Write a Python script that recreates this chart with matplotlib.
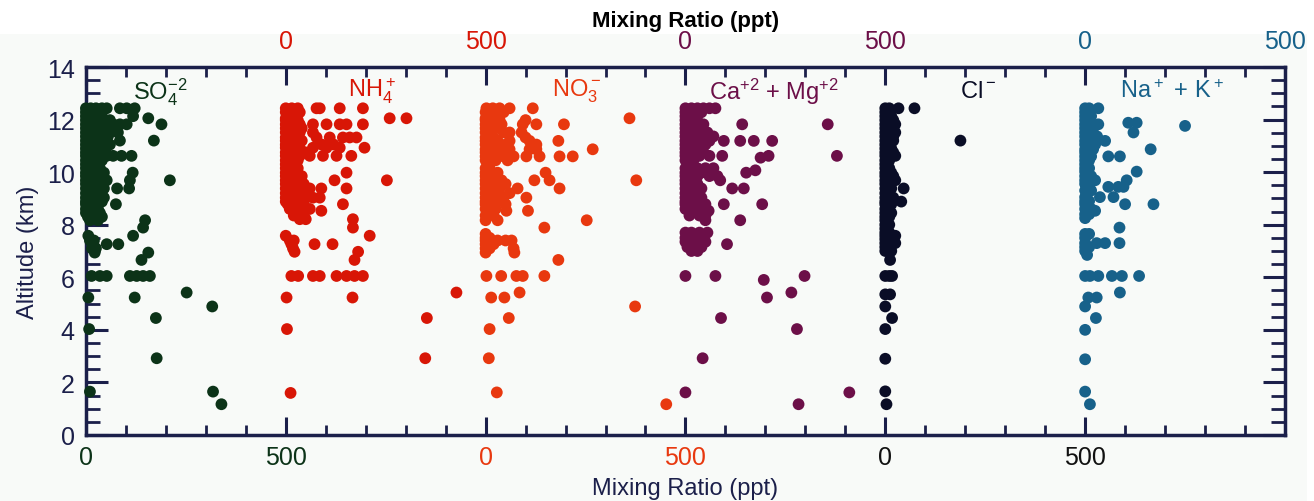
import matplotlib.pyplot as plt
from matplotlib.patches import Rectangle
from matplotlib.ticker import MultipleLocator

plt.rcParams['font.family'] = ['Liberation Sans', 'DejaVu Sans']
plt.rcParams['mathtext.default'] = 'regular'

# each species: rows of (altitude km, [mixing ratios in ppt at that altitude])
so4_rows = [
    (12.43, [0, 12, 25, 40, 52, 85, 102, 122]), (12.28, [0, 15, 30]),
    (12.13, [0, 10, 25, 40, 118]), (12.05, [156]), (11.98, [0, 20, 35, 60]),
    (11.82, [0, 12, 28, 45, 68, 85, 102, 189]), (11.67, [0, 15, 30, 50]),
    (11.51, [0, 10, 25, 40, 60, 80]), (11.36, [0, 18, 35, 55]),
    (11.2, [0, 12, 28, 45, 85, 170]), (11.05, [0, 20, 40, 60]), (10.9, [0, 10, 30, 50]),
    (10.75, [0, 15, 35]), (10.62, [0, 12, 30, 52, 68, 89, 114]), (10.45, [0, 20, 40]),
    (10.3, [0, 10, 30]), (10.15, [0, 15, 35]), (9.98, [0, 10, 25, 45, 117]),
    (9.85, [0, 20, 40]), (9.69, [0, 10, 30, 52, 110, 210]), (9.55, [0, 15, 35]),
    (9.38, [0, 10, 25, 45, 78, 108]), (9.2, [0, 15, 35]), (9.03, [0, 10, 30, 45]),
    (8.88, [0, 20, 40]), (8.78, [0, 10, 75]), (8.6, [0, 15, 30]), (8.45, [0, 20, 35]),
    (8.3, [5, 25, 40]), (8.17, [10, 30, 148]), (7.89, [143]), (7.58, [6, 118]),
    (7.4, [10, 20]), (7.26, [18, 52, 81]), (7.1, [15, 25]), (6.94, [22, 156]),
    (6.66, [139]), (6.05, [14, 35, 52, 110, 127, 143, 160]), (5.42, [252]),
    (5.23, [6, 122]), (4.89, [316]), (4.45, [175]), (4.03, [8]), (2.92, [177]),
    (1.65, [10, 318]), (1.17, [339]),
]
nh4_rows = [
    (12.43, [0, 15, 30, 77, 85, 135, 193]), (12.28, [0, 20, 35]), (12.05, [0, 10, 260, 302]),
    (11.98, [0, 15, 30]), (11.82, [0, 20, 35, 68, 102, 135, 152, 193]),
    (11.67, [0, 10, 25, 40]), (11.51, [0, 15, 35, 68]),
    (11.32, [0, 10, 25, 77, 110, 143, 160, 177]), (11.2, [0, 20, 40]),
    (11.05, [0, 10, 30, 90, 120]), (10.93, [0, 20, 35, 68, 102, 135, 197]),
    (10.75, [0, 10, 30, 50]), (10.62, [0, 20, 35, 60, 93, 127, 164]), (10.45, [0, 15, 30]),
    (10.3, [0, 10]), (10.15, [0, 15, 30]), (9.98, [0, 10, 25, 152]), (9.85, [0, 20, 40]),
    (9.69, [0, 10, 30, 122, 253]), (9.55, [0, 20, 45]), (9.38, [0, 15, 35, 60, 89, 152]),
    (9.2, [0, 25, 50]), (9.03, [0, 15, 40, 68, 85]), (8.88, [0, 20, 45]), (8.78, [5, 30, 143]),
    (8.6, [10, 35, 60]), (8.53, [89]), (8.35, [20, 45]), (8.21, [35, 50, 168]), (7.89, [168]),
    (7.58, [0, 210]), (7.4, [10, 20]), (7.26, [14, 72, 117]), (7.1, [18]), (6.97, [22, 181]),
    (6.66, [172]), (6.05, [14, 31, 68, 85, 127, 152, 172, 193]), (5.42, [427]),
    (5.23, [2, 167]), (4.45, [353]), (4.03, [3]), (2.92, [349]), (1.6, [12]),
]
no3_rows = [
    (12.43, [2, 18, 35, 60, 118]), (12.28, [0, 15, 30, 45]), (12.05, [0, 20, 360]),
    (11.98, [0, 10, 35, 100]), (11.82, [0, 15, 40, 93, 127, 196]), (11.67, [0, 25]),
    (11.51, [0, 10, 45, 60, 90]), (11.32, [0, 20, 100]), (11.19, [0, 30, 60, 110, 182]),
    (11.05, [0, 15, 40, 127]), (10.87, [0, 25, 60, 110, 127, 268]), (10.75, [0, 35]),
    (10.6, [0, 15, 45, 70, 102, 135, 185, 218]), (10.45, [0, 25, 55]), (10.15, [0, 10]),
    (9.98, [0, 15, 30, 150]), (9.85, [0, 25]), (9.69, [0, 10, 40, 122, 160, 377]),
    (9.55, [0, 20, 50]), (9.38, [0, 15, 35, 80, 185]), (9.2, [0, 25, 60]),
    (9.03, [0, 10, 45, 102]), (8.88, [0, 30]), (8.78, [0, 15, 50]), (8.6, [0, 25]),
    (8.53, [52, 106]), (8.35, [0, 20]), (8.17, [0, 30, 253]), (7.89, [147]), (7.65, [0]),
    (7.5, [0, 10]), (7.4, [0, 15, 30, 50, 65]), (7.26, [0, 20]), (7.1, [0, 10, 70]),
    (6.94, [0, 72]), (6.66, [182]), (6.05, [2, 39, 77, 93, 147]), (5.42, [85]),
    (5.23, [14, 47]), (4.89, [374]), (4.45, [58]), (4.03, [10]), (2.92, [8]), (1.62, [28]),
    (1.17, [452]),
]
camg_rows = [
    (12.43, [0, 15, 30, 45, 60, 75]), (12.28, [0, 20, 40]), (12.13, [0, 10, 30]),
    (11.98, [0, 20]), (11.82, [0, 15, 30, 45, 142, 356]), (11.67, [0, 20, 40]),
    (11.51, [0, 10, 30, 55]), (11.36, [0, 20, 45, 70]),
    (11.19, [0, 15, 35, 60, 96, 137, 171, 217]), (11.05, [0, 25, 50]), (10.9, [0, 15, 40]),
    (10.75, [0, 20, 45]), (10.62, [0, 10, 35, 60, 92, 208, 379]), (10.55, [188]),
    (10.45, [0, 20]), (10.15, [0, 15, 30, 50, 70]), (10.07, [175]), (9.98, [0, 20, 40, 152]),
    (9.85, [0, 10, 30, 60, 80]), (9.69, [0, 15, 87]), (9.55, [0, 10, 30]),
    (9.38, [0, 20, 40, 117, 146]), (9.2, [0, 10, 25]), (9.03, [0, 15, 40]), (8.88, [0, 25]),
    (8.78, [0, 10, 50, 96, 192]), (8.6, [0, 20, 40]), (8.53, [58]), (8.35, [10, 35, 50]),
    (8.17, [50, 137]), (7.7, [0, 15, 35, 55]), (7.5, [0, 20, 45]), (7.35, [0, 10, 30, 50]),
    (7.26, [104]), (7.15, [5, 25, 40]), (7.0, [15, 30]), (6.05, [0, 75, 298]), (5.9, [196]),
    (5.42, [265]), (5.23, [204]), (4.45, [89]), (4.03, [279]), (2.92, [43]),
    (1.62, [0, 410]), (1.17, [283]),
]
cl_rows = [
    (12.43, [0, 10, 33, 73]), (12.28, [0, 10]), (12.13, [0, 15]), (11.98, [0, 10, 20]),
    (11.82, [0, 15, 25]), (11.67, [0, 10]), (11.51, [0, 15, 25]), (11.36, [0, 10, 20]),
    (11.2, [0, 20, 188]), (11.05, [0, 10]), (10.9, [0, 15]), (10.75, [0, 10, 20]),
    (10.62, [0, 25]), (10.45, [0, 10]), (10.3, [0, 5]), (10.15, [0, 10]), (9.98, [0, 15]),
    (9.85, [0, 10, 20]), (9.69, [0, 25]), (9.55, [0, 10]), (9.38, [0, 15, 46]), (9.2, [0, 10]),
    (9.03, [0, 20]), (8.88, [0, 10, 40]), (8.78, [0, 15]), (8.6, [0, 10]), (8.45, [0, 15]),
    (8.3, [0, 10]), (8.17, [0]), (8.0, [0, 10]), (7.85, [0]), (7.7, [0, 10]), (7.58, [0, 25]),
    (7.45, [0, 15]), (7.3, [0, 25]), (7.15, [0, 10]), (7.0, [0, 15]), (6.66, [12]),
    (6.05, [0, 10, 17]), (5.35, [0, 12]), (4.89, [0]), (4.45, [17]), (4.03, [0]), (2.9, [0]),
    (1.66, [0]), (1.17, [3]),
]
nak_rows = [
    (12.43, [0, 10, 33]), (12.28, [0, 8]), (12.13, [0, 15]), (11.98, [0, 10]),
    (11.88, [108, 129]), (11.82, [0, 15, 33]), (11.76, [250]), (11.67, [0, 10]),
    (11.51, [0, 20, 121]), (11.36, [0, 10, 30]), (11.19, [0, 15, 50]), (11.05, [0, 10, 25]),
    (10.87, [0, 20, 164]), (10.75, [0, 10]), (10.6, [0, 15, 58, 87]), (10.45, [0, 10]),
    (10.3, [0, 5]), (10.15, [0, 10]), (10.02, [0, 129]), (9.85, [0, 15]),
    (9.69, [0, 25, 104]), (9.55, [0, 10]), (9.44, [58, 83, 96]), (9.3, [0, 15]),
    (9.05, [0, 37, 71]), (8.9, [0, 10]), (8.78, [0, 100, 171]), (8.6, [0, 15]), (8.53, [25]),
    (8.4, [0, 10]), (8.25, [0]), (7.89, [86]), (7.65, [0, 10]), (7.5, [0]),
    (7.3, [0, 29, 50, 86]), (7.15, [0, 10]), (7.0, [0]), (6.85, [5]),
    (6.05, [0, 12, 33, 67, 92, 135]), (5.42, [87]), (5.23, [8, 29]), (4.89, [0]),
    (4.45, [27]), (4.0, [0]), (2.88, [0]), (1.65, [0]), (1.17, [12]),
]

species_rows = [so4_rows, nh4_rows, no3_rows, camg_rows, cl_rows, nak_rows]
species_names = ['SO$_4^{-2}$', 'NH$_4^+$', 'NO$_3^-$', 'Ca$^{+2}$ + Mg$^{+2}$', 'Cl$^-$',
                 'Na$^+$ + K$^+$']
offsets = [0, 500, 1000, 1500, 2000, 2500]  # each species shifted by 500 ppt
colors = ['#0c3318', '#d81606', '#e8380f', '#6c0f48', '#0a0d26', '#17618a']
label_x = [117, 655, 1165, 1560, 2187, 2587]

bottom_ticks = [0, 500, 1000, 1500, 2000, 2500]
bottom_labels = ['0', '500', '0', '500', '0', '500']
bottom_colors = [colors[0], colors[0], colors[2], colors[2], '#111111', '#111111']
top_ticks = [500, 1000, 1500, 2000, 2500, 3000]
top_labels = ['0', '500', '0', '500', '0', '500']
top_colors = [colors[1], colors[1], colors[3], colors[3], colors[5], colors[5]]

navy = '#1b1f4a'

fig = plt.figure(figsize=(13.14, 5.02), dpi=100)
fig.patches.append(Rectangle((0, 0), 1307 / 1314, 1 - 35 / 502, transform=fig.transFigure,
                             facecolor='#f8faf8', edgecolor='none', zorder=-1))
ax = fig.add_axes([0.0654, 0.1315, 0.9125, 0.733])
ax.set_facecolor('none')

for rows, off, col in zip(species_rows, offsets, colors):
    xs = []
    ys = []
    for alt, vals in rows:
        for v in vals:
            xs.append(off + v)
            ys.append(alt)
    ax.scatter(xs, ys, s=72, color=col, edgecolors='none', zorder=3, clip_on=False)

for name, lx, col in zip(species_names, label_x, colors):
    ax.text(lx, 13.1, name, color=col, fontsize=17, va='center', ha='left')

ax.set_xlim(0, 3000)
ax.set_ylim(0, 14)

ax.set_xticks(bottom_ticks, labels=bottom_labels)
ax.xaxis.set_minor_locator(MultipleLocator(100))
ax.yaxis.set_major_locator(MultipleLocator(2))
ax.yaxis.set_minor_locator(MultipleLocator(0.5))
ax.tick_params(axis='x', which='major', direction='in', length=13, width=2.2, color=navy,
               labelsize=18, pad=7, top=True)
ax.tick_params(axis='x', which='minor', direction='in', length=7, width=2, color=navy, top=True)
ax.tick_params(axis='y', which='major', direction='in', length=16, width=2.2, color=navy,
               labelsize=18, labelcolor=navy, right=True, pad=8)
ax.tick_params(axis='y', which='minor', direction='in', length=10, width=2, color=navy,
               right=True)
for lab, c in zip(ax.get_xticklabels(), bottom_colors):
    lab.set_color(c)

top = ax.secondary_xaxis('top')
top.set_xticks(top_ticks, labels=top_labels)
top.tick_params(axis='x', length=0, labelsize=18, pad=10)
for lab, c in zip(top.get_xticklabels(), top_colors):
    lab.set_color(c)
top.spines['top'].set_visible(False)

for sp in ax.spines.values():
    sp.set_color(navy)
    sp.set_linewidth(2.5)

ax.set_ylabel('Altitude (km)', fontsize=17, color=navy, labelpad=6)
ax.set_xlabel('Mixing Ratio (ppt)', fontsize=17, color=navy, labelpad=6)
top.set_xlabel('Mixing Ratio (ppt)', fontsize=16, fontweight='bold', color='black', labelpad=2)

fig.savefig('out.png', dpi=100)
